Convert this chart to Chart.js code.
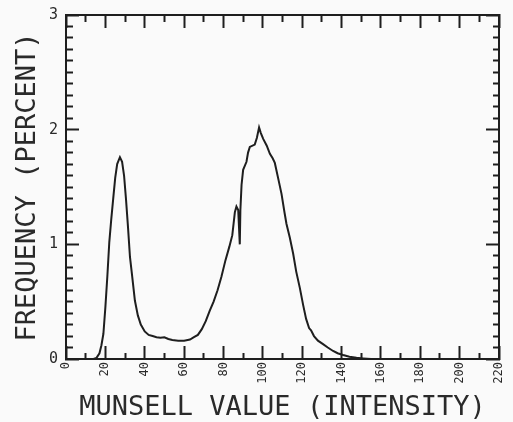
<!DOCTYPE html>
<html>
<head>
<meta charset="utf-8">
<script src="https://cdn.jsdelivr.net/npm/chart.js@4.4.1/dist/chart.umd.min.js"></script>
<style>
  html, body { margin: 0; padding: 0; background: #fafafa; }
  #wrap { width: 513px; height: 422px; position: relative; }
</style>
</head>
<body>
<div id="wrap"><canvas id="hist"></canvas></div>
<script>
// munsell value (intensity) vs frequency (percent)
const intensity = [
  0, 10, 14, 15.5, 17, 18, 19, 20, 21, 22, 23, 24, 25, 26, 27.4, 28.5, 29.5, 30.5, 31.5, 32.5,
  33.5, 35, 36.5, 38, 40, 42, 44, 46, 48, 50, 52, 54, 57, 60, 63, 65, 67, 69, 71, 73,
  75, 77, 79, 81, 83, 84.5, 85.8, 86.6, 87.5, 88.3, 88.6, 89.2, 90, 91.7, 92.5, 93.4, 95.9, 97, 98.1, 99,
  100.2, 102, 103.6, 105, 106.1, 108, 109.5, 111, 112, 113.7, 115.4, 117, 118.8, 120.5, 122, 123.5, 124.5, 126, 128, 130.6,
  133, 135.7, 138, 140.8, 144, 147.6, 151, 155, 220
];
const frequency = [
  0, 0, 0, 0.01, 0.05, 0.12, 0.22, 0.45, 0.72, 1.02, 1.22, 1.40, 1.58, 1.70, 1.76, 1.72, 1.60, 1.39, 1.15, 0.89,
  0.74, 0.51, 0.38, 0.30, 0.24, 0.21, 0.20, 0.19, 0.185, 0.19, 0.175, 0.165, 0.16, 0.16, 0.17, 0.19, 0.21, 0.26, 0.33, 0.42,
  0.50, 0.60, 0.72, 0.86, 0.98, 1.08, 1.28, 1.33, 1.30, 1.00, 1.30, 1.52, 1.65, 1.72, 1.80, 1.85, 1.87, 1.93, 2.02, 1.97,
  1.92, 1.86, 1.79, 1.75, 1.71, 1.56, 1.44, 1.28, 1.18, 1.06, 0.92, 0.76, 0.62, 0.47, 0.35, 0.27, 0.25, 0.20, 0.16, 0.13,
  0.10, 0.07, 0.05, 0.035, 0.02, 0.01, 0.005, 0, 0
];
const xMin = 0, xMax = 220, xStep = 10, xLabelEvery = 20;
const yMin = 0, yMax = 3, yStep = 0.1;

const INK = '#1e1e1e';
const TEXT = '#2a2a2a';
const MONO = '"DejaVu Sans Mono", "Liberation Mono", monospace';
const MAJOR = 13, MINOR = 7;

const isWhole = (v, every) => Math.abs(v / every - Math.round(v / every)) < 1e-6;

// ticks are drawn inward (negative tickLength); minor ones cut short with a dash
const xDashOut = (ctx) => isWhole(ctx.tick.value, xLabelEvery) ? [] : [MINOR, 60];
const xDashIn = (ctx) => isWhole(ctx.tick.value, xLabelEvery) ? [] : [0, MAJOR - MINOR, MINOR, 60];
const yDashOut = (ctx) => isWhole(ctx.tick.value, 1) ? [] : [MINOR, 60];
const yDashIn = (ctx) => isWhole(ctx.tick.value, 1) ? [] : [0, MAJOR - MINOR, MINOR, 60];

// fixed box sizes, no label overhang padding
const fixBox = (w, h) => (s) => {
  if (w != null) s.width = w;
  if (h != null) s.height = h;
  s.paddingTop = s.paddingBottom = s.paddingLeft = s.paddingRight = 0;
};

const gridBase = {
  drawOnChartArea: false,
  tickLength: -MAJOR,
  tickWidth: 2,
  tickColor: INK,
};
const borderBase = { display: true, width: 2, color: INK };

new Chart(document.getElementById('hist').getContext('2d'), {
  type: 'line',
  data: {
    datasets: [{
      data: intensity.map((x, i) => ({ x, y: frequency[i] })),
      borderColor: INK,
      borderWidth: 2,
      pointRadius: 0,
      tension: 0,
      fill: false,
    }]
  },
  options: {
    responsive: true,
    maintainAspectRatio: false,
    animation: false,
    layout: { padding: 0 },
    plugins: { legend: { display: false }, tooltip: { enabled: false } },
    scales: {
      x: {
        type: 'linear', position: 'bottom', min: xMin, max: xMax,
        grid: { ...gridBase, tickBorderDash: xDashOut },
        border: borderBase,
        ticks: {
          stepSize: xStep, autoSkip: false, minRotation: 90, maxRotation: 90,
          padding: MAJOR + 3, color: TEXT, font: { family: MONO, size: 12 },
          callback: (v) => isWhole(v, xLabelEvery) ? String(Math.round(v)) : '',
        },
        title: {
          display: true, text: 'MUNSELL VALUE (INTENSITY)', color: TEXT,
          font: { family: MONO, size: 27, lineHeight: 1 }, padding: { top: 0, bottom: 1 },
        },
        afterFit: fixBox(null, 63),
      },
      xTop: {
        type: 'linear', position: 'top', min: xMin, max: xMax,
        grid: { ...gridBase, tickBorderDash: xDashIn },
        border: borderBase,
        ticks: { stepSize: xStep, autoSkip: false, display: false },
        afterFit: fixBox(null, 15),
      },
      y: {
        type: 'linear', position: 'left', min: yMin, max: yMax,
        grid: { ...gridBase, tickBorderDash: yDashIn },
        border: borderBase,
        ticks: {
          stepSize: yStep, autoSkip: false, padding: MAJOR + 8, color: TEXT,
          font: { family: MONO, size: 15 },
          callback: (v) => isWhole(v, 1) ? String(Math.round(v)) : '',
        },
        title: {
          display: true, text: 'FREQUENCY (PERCENT)', color: TEXT,
          font: { family: MONO, size: 27, lineHeight: 1 }, padding: { top: 14, bottom: 0 },
        },
        afterFit: fixBox(66, null),
      },
      yRight: {
        type: 'linear', position: 'right', min: yMin, max: yMax,
        grid: { ...gridBase, tickBorderDash: yDashOut },
        border: borderBase,
        ticks: { stepSize: yStep, autoSkip: false, display: false },
        afterFit: fixBox(14, null),
      },
    }
  }
});
</script>
</body>
</html>
